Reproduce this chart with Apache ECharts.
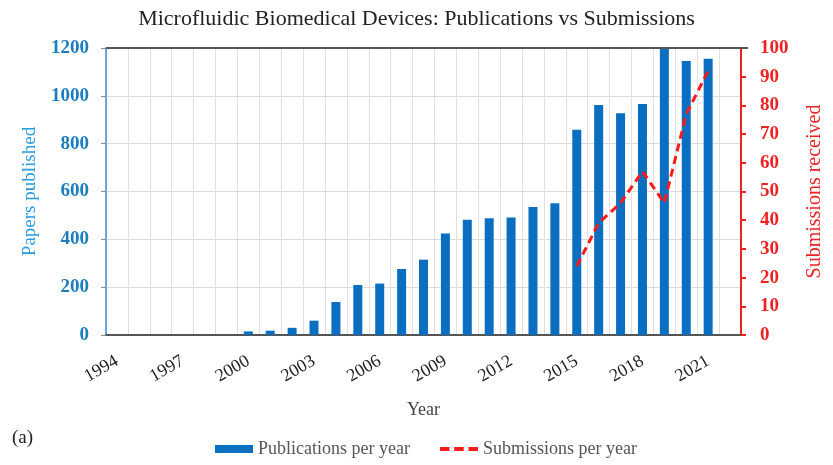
<!DOCTYPE html>
<html><head><meta charset="utf-8">
<script src="https://cdn.jsdelivr.net/npm/echarts@6/dist/echarts.min.js"></script>
<style>html,body{margin:0;padding:0;background:#fff}#c{width:833px;height:465px}</style>
</head><body><div id="c"></div>
<script>
const years = ['1994','1995','1996','1997','1998','1999','2000','2001','2002','2003','2004','2005','2006','2007','2008','2009','2010','2011','2012','2013','2014','2015','2016','2017','2018','2019','2020','2021','2022'];
const publications = [0,0,0,0,0,0,15,18,30,60,138,209,215,276,315,424,482,488,491,535,551,858,962,927,966,1200,1146,1155,null];
const submissions = [null,null,null,null,null,null,null,null,null,null,null,null,null,null,null,null,null,null,null,null,null,24,39,46,57,46,77,92,null];
const leftTicks = [0,200,400,600,800,1000,1200];
const rightTicks = [0,10,20,30,40,50,60,70,80,90,100];

const serif = '"Liberation Serif","DejaVu Serif",serif';
const chart = echarts.init(document.getElementById('c'), null, {renderer:'canvas'});
chart.setOption({
  animation:false,
  title:{text:'Microfluidic Biomedical Devices: Publications vs Submissions', left:'center', top:3,
    textStyle:{fontFamily:serif, fontSize:22, fontWeight:'normal', color:'#222'}},
  grid:{left:106, right:85, top:48, bottom:130},
  legend:{bottom:2, left:210, itemGap:30, itemWidth:38, itemHeight:8,
    textStyle:{fontFamily:serif, fontSize:18, color:'#555'},
    data:[{name:'Publications per year', icon:'rect'},
          {name:'Submissions per year', icon:'path://M0,0h10v4h-10z M15,0h10v4h-10z M30,0h10v4h-10z', itemStyle:{color:'#ff1a1a'}}]},
  xAxis:{type:'category', data:years, boundaryGap:true,
    name:'Year', nameLocation:'middle', nameGap:66,
    nameTextStyle:{fontFamily:serif, fontSize:18, color:'#444'},
    axisLine:{lineStyle:{color:'#555', width:2}},
    axisTick:{show:false},
    axisLabel:{interval:2, rotate:30, fontFamily:serif, fontSize:18, color:'#222', margin:25},
    splitLine:{show:true, interval:0, lineStyle:{color:'#e0e0e0'}}},
  yAxis:[
    {type:'value', min:0, max:1200, interval:200, position:'left',
     name:'Papers published', nameLocation:'middle', nameGap:66, nameRotate:90,
     nameTextStyle:{fontFamily:serif, fontSize:19, color:'#2b9be0'},
     axisLine:{show:true, lineStyle:{color:'#3a8fd8', width:1.5}},
     axisTick:{show:true, length:5, lineStyle:{color:'#888'}},
     axisLabel:{fontFamily:serif, fontSize:19, fontWeight:'bold', color:'#1a7dc2', margin:17, formatter:v=>String(v)},
     splitLine:{show:true, lineStyle:{color:'#dcdcdc'}}},
    {type:'value', min:0, max:100, interval:10, position:'right',
     name:'Submissions received', nameLocation:'middle', nameGap:64, nameRotate:90,
     nameTextStyle:{fontFamily:serif, fontSize:20, color:'#ee2222'},
     axisLine:{show:true, lineStyle:{color:'#ee2222', width:2}},
     axisTick:{show:true, length:5, inside:false, lineStyle:{color:'#ee2222', width:2}},
     axisLabel:{fontFamily:serif, fontSize:19, fontWeight:'bold', color:'#ee2222', margin:19},
     splitLine:{show:false}}
  ],
  series:[
    {name:'Publications per year', type:'bar', yAxisIndex:0, data:publications,
     barWidth:9, itemStyle:{color:'#0a6fc0'}},
    {name:'Submissions per year', type:'line', yAxisIndex:1, data:submissions,
     showSymbol:false, symbol:'none', connectNulls:false,
     lineStyle:{color:'#ff1a1a', width:3, type:[8,5]}, itemStyle:{color:'#ff1a1a'}}
  ],
  graphic:[
    {type:'text', left:12, top:429, style:{text:'(a)', font:'19px '+serif, fill:'#222'}},
    {type:'line', shape:{x1:106, y1:48, x2:748, y2:48}, style:{stroke:'#555', lineWidth:2}, z:10}
  ]
});
</script></body></html>
